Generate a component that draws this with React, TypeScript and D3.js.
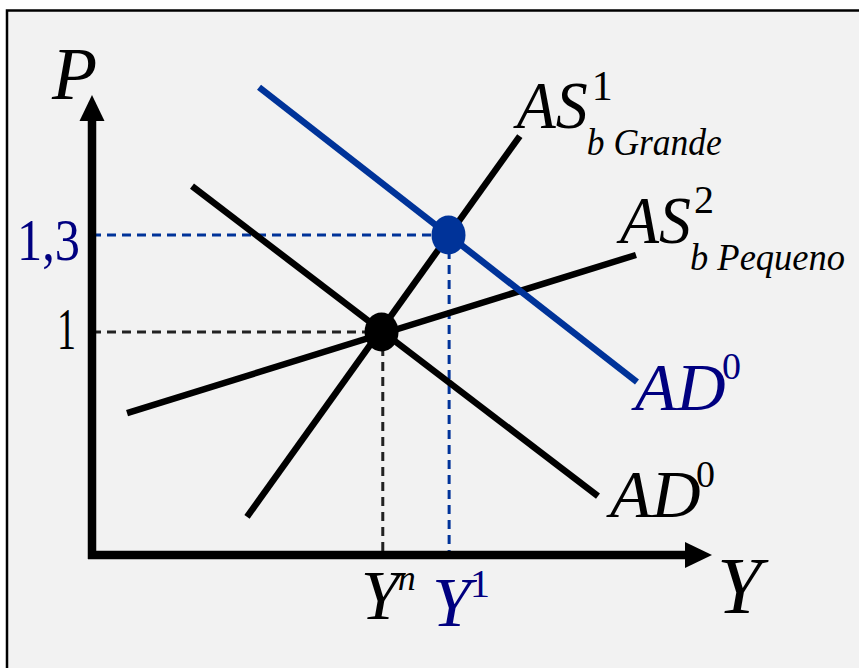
import React from "react";
import * as d3 from "d3";

// ---- data (model units) ----
const Y_DOMAIN: [number, number] = [0, 10];
const P_DOMAIN: [number, number] = [0.31, 1.733];

const asGrande = [ { y: 2.5, p: 0.428 }, { y: 6.9, p: 1.606 } ];
const asPequeno = [ { y: 0.565, p: 0.749 }, { y: 8.774, p: 1.238 } ];
const adBlack = [ { y: 1.613, p: 1.451 }, { y: 8.161, p: 0.492 } ];
const adBlue = [ { y: 2.694, p: 1.757 }, { y: 8.79, p: 0.845 } ];

const equilibria = [
  { name: "E0", y: 4.67, p: 1.0, color: "#000000" },
  { name: "E1", y: 5.75, p: 1.3, color: "#003399" },
];

const priceTicks = [
  { label: "1", p: 1.0, y: 4.69, color: "#000000", dash: "#222222" },
  { label: "1,3", p: 1.3, y: 5.76, color: "#000080", dash: "#003399" },
];

export default function App() {
  const W = 859, H = 668;
  const x = d3.scaleLinear().domain(Y_DOMAIN).range([92, 712]);
  const yS = d3.scaleLinear().domain(P_DOMAIN).range([555, 95]);
  const line = d3.line<{ y: number; p: number }>().x(d => x(d.y)).y(d => yS(d.p));

  const x0 = x(0), y0 = yS(P_DOMAIN[0]);
  const serif = "'Liberation Serif', 'Times New Roman', serif";
  const blue = "#003399";
  const navy = "#000080";

  const endOf = (arr: { y: number; p: number }[]) => ({ px: x(arr[1].y), py: yS(arr[1].p) });
  const g = endOf(asGrande), pq = endOf(asPequeno), adb = endOf(adBlack), adu = endOf(adBlue);

  return (
    <svg width={W} height={H} style={{ position: "absolute", left: 0, top: 0, display: "block", background: "#ffffff" }}>
      <rect x={7} y={10.5} width={W + 20} height={H + 20} fill="#f2f2f2" stroke="#000" strokeWidth={2.5} />

      {/* dashed guide lines */}
      {priceTicks.map(t => (
        <g key={t.label}>
          <line x1={x0} x2={x(t.y)} y1={yS(t.p)} y2={yS(t.p)} stroke={t.dash} strokeWidth={3} strokeDasharray="9 6" />
          <line x1={x(t.y)} x2={x(t.y)} y1={yS(t.p)} y2={y0 - 3} stroke={t.dash} strokeWidth={3} strokeDasharray="9 6" />
        </g>
      ))}

      {/* curves */}
      <path d={line(asPequeno) || ""} stroke="#000" strokeWidth={6.5} fill="none" />
      <path d={line(adBlack) || ""} stroke="#000" strokeWidth={6.5} fill="none" />
      <path d={line(asGrande) || ""} stroke="#000" strokeWidth={6.5} fill="none" />
      <path d={line(adBlue) || ""} stroke={blue} strokeWidth={6.5} fill="none" />

      {/* equilibrium points */}
      {equilibria.map(e => (
        <ellipse key={e.name} cx={x(e.y)} cy={yS(e.p)} rx={17} ry={19.5} fill={e.color} />
      ))}

      {/* axes */}
      <line x1={x0} x2={x0} y1={118} y2={y0 + 4} stroke="#000" strokeWidth={8.5} />
      <polygon points={`${x0},95 ${x0 - 12.5},121 ${x0 + 12.5},121`} fill="#000" />
      <line x1={x0 - 4} x2={687} y1={y0} y2={y0} stroke="#000" strokeWidth={8.5} />
      <polygon points={`712,${y0} 685,${y0 - 13} 685,${y0 + 13}`} fill="#000" />

      {/* axis labels */}
      <text x={52} y={99} fontFamily={serif} fontStyle="italic" fontSize={74}>P</text>
      <text x={717} y={613} fontFamily={serif} fontStyle="italic" fontSize={80}>Y</text>

      {/* price tick labels */}
      {priceTicks.map(t => (
        <text key={t.label} x={t.label === "1" ? 57 : 17} y={yS(t.p) + (t.label === "1" ? 17 : 25)}
          textLength={t.label === "1" ? 19 : 63} lengthAdjust="spacingAndGlyphs"
          fontFamily={serif} fontSize={60} fill={t.color}>{t.label}</text>
      ))}

      {/* output tick labels */}
      <text x={x(4.69) - 22} y={619} fontFamily={serif} fontStyle="italic" fontSize={70} fill="#000">Y</text>
      <text x={x(4.69) + 15} y={590} fontFamily={serif} fontStyle="italic" fontSize={36} fill="#000">n</text>
      <text x={x(5.76) - 17} y={626} fontFamily={serif} fontStyle="italic" fontSize={70} fill={navy}>Y</text>
      <text x={x(5.76) + 21} y={597} fontFamily={serif} fontSize={40} fill={navy}>1</text>

      {/* AS grande label */}
      <text x={g.px - 3} y={g.py - 8} fontFamily={serif} fontStyle="italic" fontSize={68} textLength={71} lengthAdjust="spacingAndGlyphs">AS</text>
      <text x={g.px + 72} y={g.py - 36} fontFamily={serif} fontSize={42}>1</text>
      <text x={g.px + 67} y={g.py + 19} fontFamily={serif} fontStyle="italic" fontSize={37} textLength={135} lengthAdjust="spacingAndGlyphs">b Grande</text>

      {/* AS pequeno label */}
      <text x={pq.px - 16} y={pq.py - 12} fontFamily={serif} fontStyle="italic" fontSize={68} textLength={71} lengthAdjust="spacingAndGlyphs">AS</text>
      <text x={pq.px + 58} y={pq.py - 42} fontFamily={serif} fontSize={40}>2</text>
      <text x={pq.px + 54} y={pq.py + 15} fontFamily={serif} fontStyle="italic" fontSize={37} textLength={155} lengthAdjust="spacingAndGlyphs">b Pequeno</text>

      {/* AD labels */}
      <text x={adu.px - 2} y={adu.py + 28} fontFamily={serif} fontStyle="italic" fontSize={68} fill={navy}>AD</text>
      <text x={adu.px + 85} y={adu.py - 3} fontFamily={serif} fontSize={38} fill={navy}>0</text>
      <text x={adb.px + 12} y={adb.py + 21} fontFamily={serif} fontStyle="italic" fontSize={68}>AD</text>
      <text x={adb.px + 98} y={adb.py - 9} fontFamily={serif} fontSize={38}>0</text>
    </svg>
  );
}
